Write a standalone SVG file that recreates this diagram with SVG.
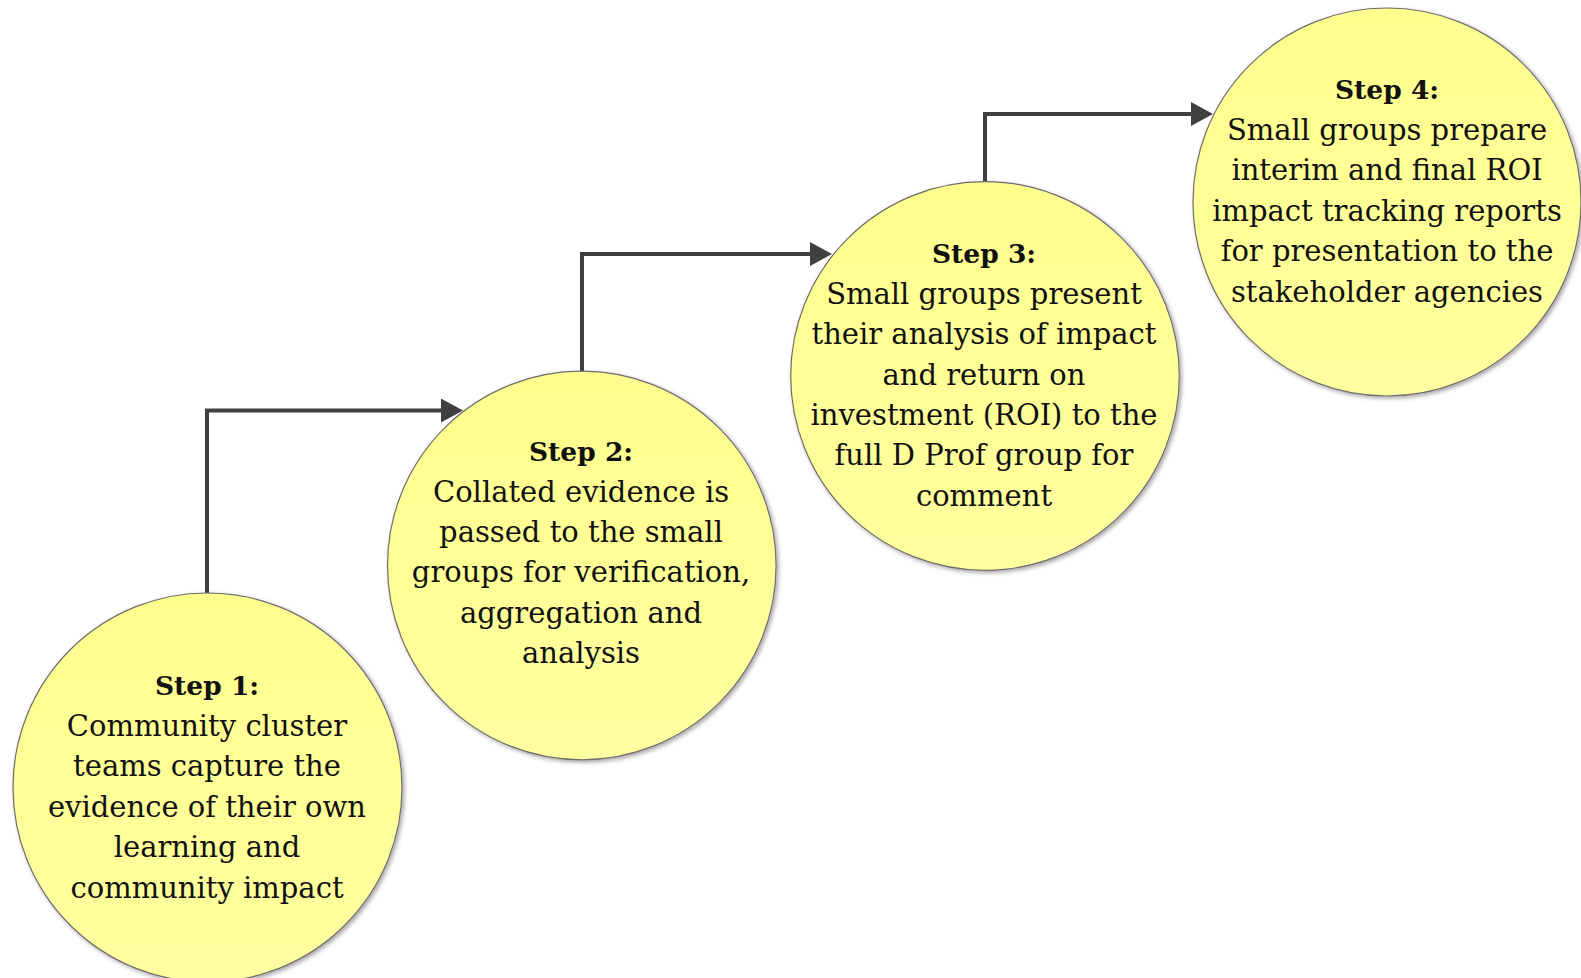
<svg xmlns="http://www.w3.org/2000/svg" width="1581" height="978" viewBox="0 0 1581 978">
  <style>
    .node circle { fill: url(#yg); stroke: #6e6e6e; stroke-width: 1.2; filter: url(#sh); }
    .title { font-family: "DejaVu Serif", "Liberation Serif", serif; font-weight: bold; font-size: 26.5px; fill: #111; text-anchor: middle; }
    .body { font-family: "DejaVu Serif", "Liberation Serif", serif; font-size: 29px; fill: #111; text-anchor: middle; }
    .conn path { fill: none; stroke: #404040; stroke-width: 4; stroke-linejoin: miter; }
  </style>
  <defs>
    <linearGradient id="yg" x1="0" y1="0" x2="0" y2="1">
      <stop offset="0" stop-color="#FFFF8E"/>
      <stop offset="1" stop-color="#FFFFA0"/>
    </linearGradient>
    <filter id="sh" x="-10%" y="-10%" width="125%" height="125%">
      <feDropShadow dx="2" dy="2" stdDeviation="2" flood-color="#000" flood-opacity="0.35"/>
    </filter>
    <marker id="ah" markerUnits="userSpaceOnUse" markerWidth="23" markerHeight="24" refX="11" refY="12" orient="auto">
      <path d="M0,0 L22,12 L0,24 z" fill="#404040"/>
    </marker>
  </defs>
  <rect width="1581" height="978" fill="#fff"/>

  <g class="conn" id="connectors">
    <path d="M207,594 V410.5 H452" marker-end="url(#ah)"/>
    <path d="M582,372 V254 H821" marker-end="url(#ah)"/>
    <path d="M985,182 V114 H1202" marker-end="url(#ah)"/>
  </g>

  <g class="node" id="step1">
    <circle cx="207.5" cy="787.5" r="194.5"/>
    <text class="title" x="207" y="695">Step 1:</text>
    <text class="body" x="207" y="735.5">Community cluster</text>
    <text class="body" x="207" y="776">teams capture the</text>
    <text class="body" x="207" y="816.5">evidence of their own</text>
    <text class="body" x="207" y="857">learning and</text>
    <text class="body" x="207" y="897.5">community impact</text>
  </g>

  <g class="node" id="step2">
    <circle cx="581.8" cy="565.5" r="194.3"/>
    <text class="title" x="581" y="461">Step 2:</text>
    <text class="body" x="581" y="501.5">Collated evidence is</text>
    <text class="body" x="581" y="542">passed to the small</text>
    <text class="body" x="581" y="582">groups for verification,</text>
    <text class="body" x="581" y="622.5">aggregation and</text>
    <text class="body" x="581" y="663">analysis</text>
  </g>

  <g class="node" id="step3">
    <circle cx="985" cy="376" r="194.3"/>
    <text class="title" x="984" y="263">Step 3:</text>
    <text class="body" x="984" y="304">Small groups present</text>
    <text class="body" x="984" y="344">their analysis of impact</text>
    <text class="body" x="984" y="384.5">and return on</text>
    <text class="body" x="984" y="425">investment (ROI) to the</text>
    <text class="body" x="984" y="465">full D Prof group for</text>
    <text class="body" x="984" y="505.5">comment</text>
  </g>

  <g class="node" id="step4">
    <circle cx="1387" cy="202" r="194"/>
    <text class="title" x="1387" y="99">Step 4:</text>
    <text class="body" x="1387" y="139.5">Small groups prepare</text>
    <text class="body" x="1387" y="180">interim and final ROI</text>
    <text class="body" x="1387" y="220.5">impact tracking reports</text>
    <text class="body" x="1387" y="261">for presentation to the</text>
    <text class="body" x="1387" y="301.5">stakeholder agencies</text>
  </g>
</svg>
